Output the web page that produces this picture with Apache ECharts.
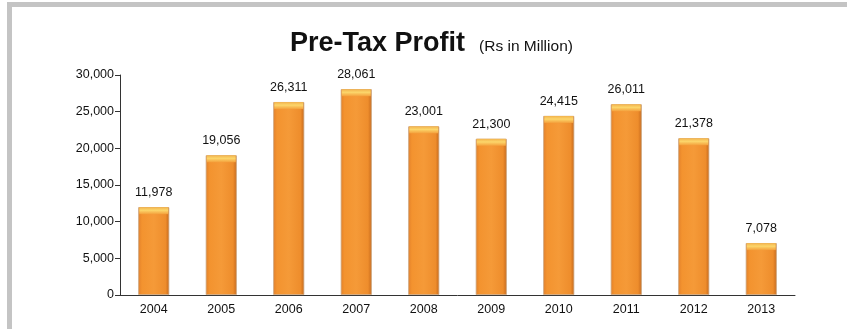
<!DOCTYPE html>
<html>
<head>
<meta charset="utf-8">
<script src="https://cdn.jsdelivr.net/npm/echarts@6/dist/echarts.min.js"></script>
<style>
  html, body { margin: 0; padding: 0; background: #fff; }
  #frame { position: absolute; left: 7px; top: 2px; width: 840px; height: 327px;
           border-top: 5px solid #c4c4c4; border-left: 5px solid #c4c4c4; box-sizing: border-box; }
  #chart { position: absolute; left: 0; top: 0; width: 847px; height: 329px; }
</style>
</head>
<body>
<div id="frame"></div>
<div id="chart"></div>
<script>
// Pre-tax profit by year, Rs in million
const years = ['2004', '2005', '2006', '2007', '2008', '2009', '2010', '2011', '2012', '2013'];
const profit = [11978, 19056, 26311, 28061, 23001, 21300, 24415, 26011, 21378, 7078];
const yTicks = [0, 5000, 10000, 15000, 20000, 25000, 30000];

const chart = echarts.init(document.getElementById('chart'), null, { renderer: 'canvas' });

const bodyFill = new echarts.graphic.LinearGradient(0, 0, 1, 0, [
  { offset: 0, color: '#e3802a' },
  { offset: 0.12, color: '#f3932f' },
  { offset: 0.5, color: '#f59a38' },
  { offset: 0.88, color: '#ee8d2c' },
  { offset: 1, color: '#c6691c' }
]);
const capFill = new echarts.graphic.LinearGradient(0, 0, 0, 1, [
  { offset: 0, color: '#f2b24c' },
  { offset: 0.45, color: '#fcd66b' },
  { offset: 1, color: '#f4a03c' }
]);

chart.setOption({
  animation: false,
  title: {
    text: '{main|Pre-Tax Profit}{sub|(Rs in Million)}',
    left: 285,
    top: 25,
    textStyle: {
      rich: {
        main: { fontFamily: 'Liberation Sans, Arial, sans-serif', fontSize: 27, fontWeight: 'bold', color: '#111' },
        sub: { fontFamily: 'Liberation Sans, Arial, sans-serif', fontSize: 15.5, fontWeight: 'normal', color: '#111', padding: [6, 0, 0, 14] }
      }
    }
  },
  grid: { left: 120, right: 52, top: 75, bottom: 34, containLabel: false },
  xAxis: {
    type: 'category',
    data: years,
    axisLine: { lineStyle: { color: '#333', width: 1 } },
    axisTick: { show: false },
    axisLabel: { color: '#111', fontSize: 12.5, fontFamily: 'Liberation Sans, Arial, sans-serif', margin: 8 }
  },
  yAxis: {
    type: 'value',
    min: yTicks[0],
    max: yTicks[yTicks.length - 1],
    interval: yTicks[1] - yTicks[0],
    axisLine: { show: true, lineStyle: { color: '#333', width: 1 } },
    axisTick: { show: true, length: 5, lineStyle: { color: '#333' } },
    splitLine: { show: false },
    axisLabel: {
      color: '#111', fontSize: 12.5, fontFamily: 'Liberation Sans, Arial, sans-serif', margin: 6,
      formatter: v => v.toLocaleString('en-US')
    }
  },
  series: [
    {
      type: 'bar',
      data: profit,
      barWidth: 31,
      itemStyle: { color: bodyFill, borderColor: '#c9a27a', borderWidth: 0.8 },
      label: {
        show: true, position: 'top', distance: 8,
        color: '#111', fontSize: 12.5, fontFamily: 'Liberation Sans, Arial, sans-serif',
        formatter: p => p.value.toLocaleString('en-US')
      },
      z: 2
    },
    {
      // glossy cap on top of each bar
      type: 'pictorialBar',
      data: profit,
      symbol: 'rect',
      symbolSize: [29, 7],
      symbolPosition: 'end',
      symbolOffset: [0, 0],
      itemStyle: { color: capFill },
      silent: true,
      z: 3
    }
  ]
});
</script>
</body>
</html>
